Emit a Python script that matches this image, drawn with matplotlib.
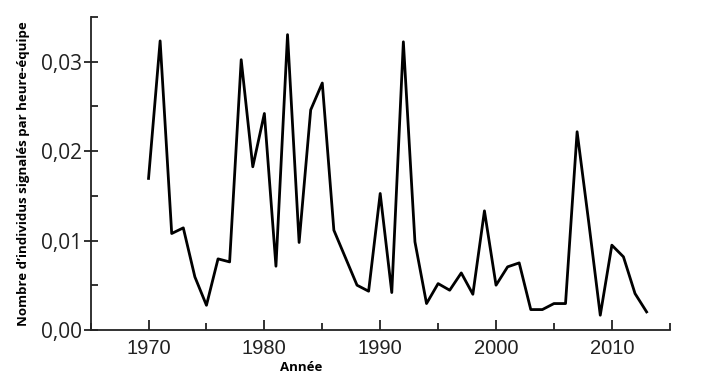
import numpy as np
import matplotlib.pyplot as plt
from matplotlib.ticker import MultipleLocator, FuncFormatter

# donnees
annees = list(range(1970, 2014))
valeurs = [0.01695, 0.0323, 0.0108, 0.01143, 0.00596, 0.00279, 0.00797, 0.00763,
           0.0302, 0.01825, 0.0242, 0.00715, 0.0330, 0.0098, 0.0246,
           0.0276, 0.01117, 0.0081, 0.00503, 0.00436, 0.01527, 0.00421, 0.0322,
           0.00987, 0.00298, 0.00521, 0.00447, 0.0064, 0.00402, 0.01333, 0.00503,
           0.00708, 0.00752, 0.00231, 0.00231, 0.00298, 0.00298, 0.02216, 0.0121,
           0.00168, 0.0095, 0.0082, 0.0041, 0.00205]
yticks = [0.0, 0.01, 0.02, 0.03]
xticks = [1970, 1980, 1990, 2000, 2010]

fig = plt.figure(figsize=(7.08, 3.89), dpi=100)
ax = fig.add_axes([0.128, 0.151, 0.818, 0.806])

ax.plot(annees, valeurs, color='black', lw=2.0)

ax.set_xlim(1965, 2015)
ax.set_ylim(0, 0.035)
ax.spines['top'].set_visible(False)
ax.spines['right'].set_visible(False)
for s in ['left', 'bottom']:
    ax.spines[s].set_linewidth(1.3)
    ax.spines[s].set_color('#222222')

ax.set_xticks(xticks)
ax.xaxis.set_minor_locator(MultipleLocator(5))
ax.set_yticks(yticks)
ax.yaxis.set_minor_locator(MultipleLocator(0.005))
ax.yaxis.set_major_formatter(FuncFormatter(lambda v, p: ('%.2f' % v).replace('.', ',')))

ax.tick_params(axis='x', which='major', direction='in', length=7, width=1.3,
               labelsize=14.5, colors='#222222', pad=6)
ax.tick_params(axis='x', which='minor', direction='in', length=5, width=1.3, colors='#222222')
ax.tick_params(axis='y', which='major', direction='inout', length=10, width=1.3,
               labelsize=15, colors='#222222', pad=1)
ax.tick_params(axis='y', which='minor', direction='in', length=5, width=1.3, colors='#222222')
for lab in ax.get_xticklabels():
    lab.set_family('Liberation Sans')
for lab in ax.get_yticklabels():
    lab.set_family('Open Sans')

ax.set_xlabel('Année', fontsize=9.5, fontweight='bold', family='Open Sans')
ax.xaxis.set_label_coords(0.364, -0.097)
ax.set_ylabel('Nombre d’individus signalés par heure-équipe', fontsize=9.5,
              fontweight='bold', family='Open Sans')
ax.yaxis.set_label_coords(-0.104, 0.5)

fig.savefig('out.png', dpi=100)
